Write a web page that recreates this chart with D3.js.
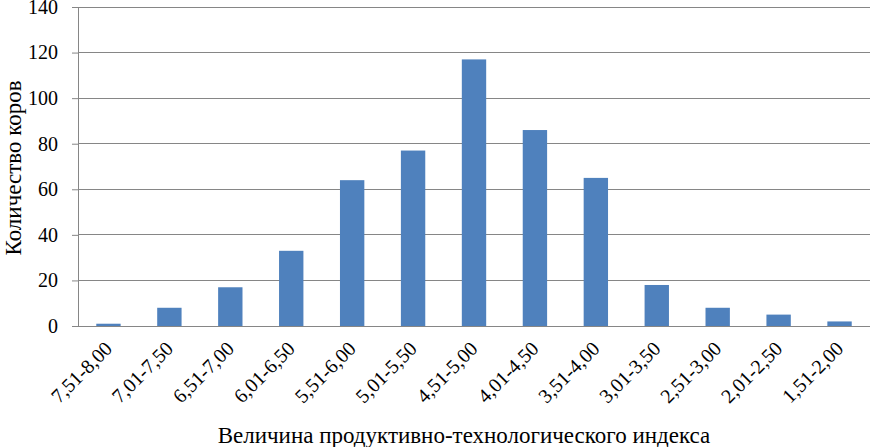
<!DOCTYPE html>
<html><head><meta charset="utf-8">
<script src="https://cdn.jsdelivr.net/npm/d3@7"></script>
</head><body style="margin:0">
<script>
const categories = ["7,51-8,00","7,01-7,50","6,51-7,00","6,01-6,50","5,51-6,00","5,01-5,50","4,51-5,00","4,01-4,50","3,51-4,00","3,01-3,50","2,51-3,00","2,01-2,50","1,51-2,00"];
const counts = [1,8,17,33,64,77,117,86,65,18,8,5,2];
const yTicks = [0,20,40,60,80,100,120,140];
const yTitle = "Количество коров";
const xTitle = "Величина продуктивно-технологического индекса";

const FONT = '"Liberation Serif"';
const W = 879, H = 447;
const m = {left: 78, right: 9, top: 7, bottom: 121};
const svg = d3.select("body").append("svg").attr("width", W).attr("height", H)
  .style("display", "block").style("font-family", FONT).attr("font-family", "Liberation Serif");

const x = d3.scaleBand().domain(categories).range([m.left, W - m.right]).paddingInner(0.6).paddingOuter(0.3);
const y = d3.scaleLinear().domain([0, 140]).range([H - m.bottom, m.top]);

svg.append("g").selectAll("line").data(yTicks.filter(d => d > 0)).join("line")
  .attr("x1", m.left).attr("x2", W - m.right)
  .attr("y1", d => y(d)).attr("y2", d => y(d))
  .attr("stroke", "#868686").attr("stroke-width", 1).attr("shape-rendering", "crispEdges");

svg.append("g").selectAll("rect").data(counts).join("rect")
  .attr("x", (d, i) => x(categories[i]))
  .attr("width", x.bandwidth())
  .attr("y", d => y(d))
  .attr("height", d => y(0) - y(d))
  .attr("fill", "#4F81BD");

const yAxis = svg.append("g").attr("transform", `translate(${m.left},0)`)
  .call(d3.axisLeft(y).tickValues(yTicks).tickSize(6).tickPadding(14));
yAxis.attr("font-family", "Liberation Serif").attr("font-size", 20);
yAxis.select(".domain").attr("stroke", "#868686");
yAxis.selectAll(".tick line").attr("stroke", "#868686");
yAxis.selectAll(".tick text").attr("fill", "#000");

const xAxis = svg.append("g").attr("transform", `translate(0,${y(0)})`)
  .call(d3.axisBottom(x).tickSize(0).tickPadding(0));
xAxis.attr("font-family", "Liberation Serif").attr("font-size", 20);
xAxis.select(".domain").attr("stroke", "#868686").attr("d", `M${m.left},0.5H${W - m.right}`);
xAxis.selectAll(".tick text")
  .attr("fill", "#000")
  .attr("text-anchor", "end")
  .attr("dy", "0.35em")
  .attr("transform", "translate(0,19) rotate(-45)");

svg.append("text").attr("x", 464).attr("y", 443)
  .attr("text-anchor", "middle").attr("font-size", 23).text(xTitle);
svg.append("text").attr("transform", `translate(21,168) rotate(-90)`)
  .attr("text-anchor", "middle").attr("font-size", 23).text(yTitle);
</script>
</body></html>
